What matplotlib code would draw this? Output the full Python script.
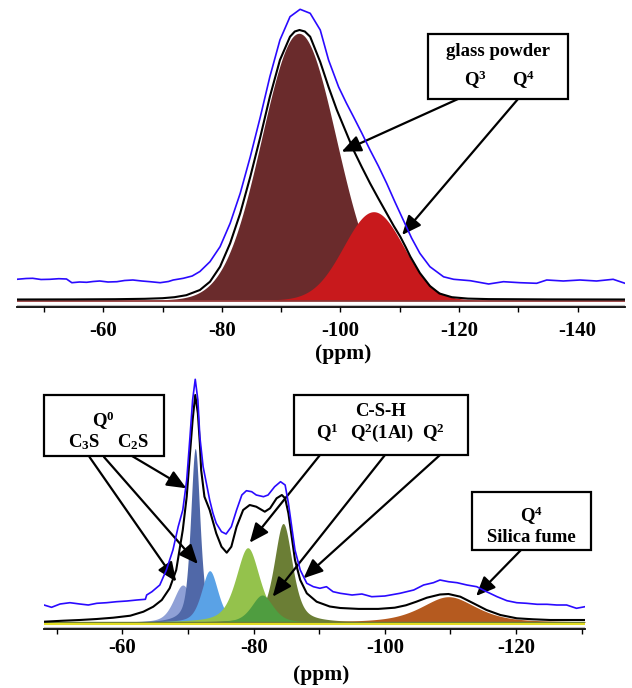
import matplotlib
matplotlib.use("Agg")
import matplotlib.pyplot as plt
import numpy as np
from matplotlib.patches import Rectangle

plt.rcParams["font.family"] = "Liberation Serif"
plt.rcParams["font.weight"] = "bold"
plt.rcParams["mathtext.fontset"] = "custom"
plt.rcParams["mathtext.rm"] = "Liberation Serif:bold"
plt.rcParams["mathtext.bf"] = "Liberation Serif:bold"
plt.rcParams["mathtext.it"] = "Liberation Serif:bold"
plt.rcParams["axes.unicode_minus"] = False

# ── glass powder spectrum (top) ──
# fitted components Q3, Q4: centre (ppm), FWHM (ppm), height (a.u.), Lorentz fraction
top_centers = [-93.0, -105.6]
top_fwhm = [14.8, 11.9]
top_heights = [266.7, 88.3]
top_eta = [0.0, 0.0]

top_exp_ppm = [-45.4, -47.0, -48.1, -49.5, -51.0, -52.5, -53.8, -54.7, -56.0, -57.2,
               -58.3, -59.4, -60.8, -62.3, -63.6, -65.0, -66.5, -67.9, -69.6, -71.0,
               -71.8, -73.5, -75.0, -76.3, -78.0, -79.7, -81.4, -83.1, -84.8, -86.5,
               -88.1, -89.8, -91.5, -93.2, -94.9, -96.6, -98.0, -99.7, -101.0, -102.2,
               -103.6, -105.0, -106.4, -107.8, -109.2, -110.6, -112.0, -113.4, -115.1, -117.4,
               -119.1, -121.9, -125.0, -127.5, -130.3, -133.1, -134.8, -137.6, -140.4, -143.2,
               -146.0, -148.0]
top_exp_int = [20.7, 21.5, 21.7, 20.5, 20.7, 21.3, 21.0, 17.3, 18.0, 17.7,
               18.5, 19.0, 18.0, 18.3, 19.5, 20.0, 19.0, 18.3, 17.3, 18.5,
               20.0, 21.7, 24.0, 28.5, 38.3, 53.3, 76.7, 106.7, 143.3, 183.3,
               223.3, 260.0, 283.3, 290.7, 286.7, 270.0, 240.0, 213.0, 197.0, 183.3,
               167.0, 150.0, 134.0, 116.7, 98.0, 80.0, 62.0, 46.7, 33.3, 23.2,
               20.7, 19.3, 16.0, 18.3, 17.3, 16.7, 20.0, 19.0, 20.0, 19.0,
               20.7, 16.7]

# simulated total (black)
top_fit_ppm = [-45.4, -55.0, -62.0, -67.0, -70.0, -72.0, -74.0, -76.3, -78.0, -79.7,
               -81.4, -83.1, -84.8, -86.5, -88.1, -89.8, -91.5, -92.3, -93.1, -94.0,
               -94.9, -96.6, -98.0, -99.4, -100.8, -102.2, -103.6, -105.0, -106.4, -107.8,
               -109.0, -110.1, -111.0, -111.8, -113.4, -115.1, -116.7, -118.8, -121.5, -125.0,
               -135.0, -148.0]
top_fit_int = [0.5, 0.6, 0.8, 1.2, 1.8, 2.8, 4.8, 10.0, 18.3, 33.3,
               56.7, 86.7, 123.3, 163.3, 203.3, 240.0, 263.3, 268.5, 270.0, 268.5,
               263.3, 238.0, 213.0, 190.0, 170.0, 150.0, 133.0, 116.7, 101.5, 86.7,
               74.0, 63.3, 53.0, 43.3, 27.0, 14.0, 6.5, 2.8, 1.4, 0.9,
               0.6, 0.5]

top_ticks = [-50, -60, -70, -80, -90, -100, -110, -120, -130, -140]

# ── hydrated paste spectrum (bottom) ──
# order: C3S, C2S, C3S, Q1, Q2, Q2(1Al), Q4 silica fume
bot_centers = [-69.2, -71.1, -73.3, -79.1, -84.5, -81.3, -109.7]
bot_fwhm = [3.4, 1.7, 3.0, 4.3, 3.3, 3.9, 10.0]
bot_heights = [37.5, 174.0, 51.8, 74.8, 99.0, 27.5, 25.8]
bot_eta = [0.5, 0.55, 0.5, 0.55, 0.55, 0.5, 0.6]

bot_exp_ppm = [-48.05, -49.2, -50.5, -52.0, -53.5, -54.8, -56.1, -57.6, -59.1, -60.7,
               -62.2, -63.5, -63.7, -64.5, -65.7, -66.7, -67.7, -68.5, -69.2, -69.8,
               -70.3, -70.7, -71.1, -71.5, -71.8, -72.3, -72.8, -73.3, -73.8, -74.3,
               -75.1, -75.8, -76.6, -77.4, -78.2, -78.9, -79.7, -80.4, -81.5, -82.2,
               -83.2, -84.1, -84.8, -85.3, -85.8, -86.3, -87.1, -88.1, -89.1, -90.1,
               -91.1, -92.1, -93.2, -95.0, -96.5, -98.0, -100.0, -102.3, -104.4, -105.9,
               -107.4, -108.4, -109.7, -111.0, -112.5, -114.0, -115.5, -117.1, -118.6, -120.1,
               -121.6, -123.2, -124.7, -126.2, -127.7, -129.2, -130.5]
bot_exp_int = [17.5, 15.2, 18.5, 19.8, 18.5, 17.5, 19.2, 19.8, 20.8, 21.5,
               22.5, 23.2, 27.5, 30.8, 37.5, 52.5, 72.5, 95.8, 112.5, 142.5,
               185.8, 222.5, 243.2, 222.5, 185.8, 155.8, 139.2, 122.5, 109.2, 99.2,
               90.8, 88.5, 95.8, 112.5, 127.5, 131.8, 130.8, 127.5, 125.8, 127.5,
               135.8, 140.8, 137.5, 119.2, 95.8, 72.5, 52.5, 39.2, 35.8, 34.2,
               35.8, 30.8, 29.2, 27.5, 28.5, 25.8, 26.5, 29.2, 32.5, 37.5,
               39.8, 42.5, 40.8, 39.8, 37.5, 35.8, 30.8, 25.8, 21.8, 19.8,
               19.2, 18.2, 18.2, 17.5, 17.5, 14.2, 15.8]

bot_fit_ppm = [-48.05, -51.0, -53.5, -56.1, -58.6, -61.2, -63.2, -64.7, -66.0, -67.2,
               -68.2, -69.2, -69.8, -70.3, -70.7, -71.1, -71.5, -71.8, -72.0, -72.5,
               -73.3, -74.3, -75.1, -75.9, -76.6, -77.4, -78.4, -79.4, -80.4, -81.7,
               -82.5, -83.5, -84.3, -84.8, -85.3, -85.8, -86.3, -87.1, -88.1, -89.6,
               -91.6, -93.2, -96.0, -99.0, -101.5, -103.2, -104.8, -106.4, -108.4, -109.7,
               -111.5, -113.5, -115.5, -117.6, -120.1, -122.6, -125.2, -127.7, -130.5]
bot_fit_int = [0.8, 1.8, 2.5, 3.5, 4.8, 6.8, 10.8, 15.8, 22.5, 34.2,
               52.5, 92.5, 125.8, 169.2, 202.5, 227.5, 209.2, 179.2, 152.5, 125.8,
               112.5, 89.2, 75.8, 69.8, 75.8, 95.8, 112.5, 117.5, 115.8, 110.8,
               114.2, 124.2, 127.5, 124.2, 109.2, 85.8, 62.5, 42.5, 29.2, 20.8,
               16.0, 14.5, 13.6, 13.6, 14.8, 17.2, 20.8, 24.8, 28.0, 28.5,
               25.8, 19.2, 12.5, 7.5, 4.2, 3.2, 2.5, 2.5, 2.5]

bot_ticks = [-50, -60, -70, -80, -90, -100, -110, -120, -130]

W, H = 632, 688
LABEL_FS = 13.5


def pseudo_voigt(x, c, fwhm, amp, eta):
    u = (x - c) / (fwhm / 2.0)
    return amp * (eta / (1 + u ** 2) + (1 - eta) * np.exp(-np.log(2) * u ** 2))


def fig_box(x0, y0, x1, y1):
    """pixel box (from top-left) -> figure fraction rect"""
    return [x0 / W, 1 - y1 / H, (x1 - x0) / W, (y1 - y0) / H]


def fpt(x, y):
    return (x / W, 1 - y / H)


def style_axis(ax, ticks, pad):
    for s in ("top", "left", "right"):
        ax.spines[s].set_visible(False)
    ax.spines["bottom"].set_linewidth(1.3)
    ax.set_yticks([])
    ax.set_xticks(ticks)
    ax.set_xticklabels([str(t) if t % 20 == 0 else "" for t in ticks])
    ax.tick_params(axis="x", direction="out", length=3.5, width=1.0,
                   labelsize=15, pad=pad)


def text_box(x0, y0, x1, y1):
    fig.add_artist(Rectangle(fpt(x0, y1), (x1 - x0) / W, (y1 - y0) / H,
                             transform=fig.transFigure, facecolor="white",
                             edgecolor="black", linewidth=1.6))


def label(x, y, s):
    fig.text(*fpt(x, y), s, fontsize=LABEL_FS, ha="center", va="center")


def arrow(ax, tip, start):
    ax.annotate("", xy=tip, xycoords="data", xytext=fpt(*start),
                textcoords="figure fraction", annotation_clip=False,
                arrowprops=dict(arrowstyle="-|>,head_length=0.65,head_width=0.28",
                                color="black", lw=1.6, mutation_scale=18,
                                shrinkA=0, shrinkB=0))


fig = plt.figure(figsize=(W / 100, H / 100), dpi=100)

# ── top panel ──
ax1 = fig.add_axes(fig_box(16.7, 0, 625, 307))
x1 = np.linspace(-45.4, -148.0, 3000)
top_cols = ["#6a2b2c", "#c8191c"]
for c, f, a, e, col in zip(top_centers, top_fwhm, top_heights, top_eta, top_cols):
    ax1.fill_between(x1, 0, pseudo_voigt(x1, c, f, a, e), color=col,
                     linewidth=0, zorder=2)
ax1.axhline(-1.0, color="#8b2a2a", lw=1.2, zorder=3)
ax1.axhline(-4.5, color="#c0c0c0", lw=0.8, zorder=3)
ax1.plot(top_fit_ppm, top_fit_int, color="black", lw=1.5, zorder=4)
ax1.plot(top_exp_ppm, top_exp_int, color="#2a0aff", lw=1.2, zorder=5)
ax1.set_xlim(-45.4, -148.0)
ax1.set_ylim(-7.0, 300.0)
style_axis(ax1, top_ticks, 6.5)
fig.text(*fpt(343, 354), "(ppm)", fontsize=15.5, ha="center", va="center")

text_box(428, 34, 568, 99)
label(497.5, 51, "glass powder")
label(475, 80, r"Q$^{3}$")
label(523, 80, r"Q$^{4}$")
arrow(ax1, (-100.2, 148.3), (458, 99))
arrow(ax1, (-110.4, 65.0), (518, 99))

# ── bottom panel ──
ax2 = fig.add_axes(fig_box(44, 372, 585, 628.5))
x2 = np.linspace(-48.05, -130.5, 4000)
bot_cols = ["#8fa0d6", "#5068a8", "#5aa2e6", "#94c24c", "#6b7e35", "#4f9d40", "#b55a1f"]
for c, f, a, e, col in zip(bot_centers, bot_fwhm, bot_heights, bot_eta, bot_cols):
    ax2.fill_between(x2, 0, pseudo_voigt(x2, c, f, a, e), color=col,
                     linewidth=0, zorder=2)
ax2.axhline(0.3, color="#6b7e35", lw=1.0, zorder=3)
ax2.axhline(-1.6, color="#e2dc22", lw=1.5, zorder=3)
ax2.axhline(-4.6, color="#c0c0c0", lw=0.8, zorder=3)
ax2.plot(bot_fit_ppm, bot_fit_int, color="black", lw=1.5, zorder=4)
ax2.plot(bot_exp_ppm, bot_exp_int, color="#2a0aff", lw=1.2, zorder=5)
ax2.set_xlim(-48.05, -130.5)
ax2.set_ylim(-6.0, 250.5)
style_axis(ax2, bot_ticks, 3.5)
fig.text(*fpt(321.5, 675), "(ppm)", fontsize=15.5, ha="center", va="center")

text_box(44, 395, 164, 456)
label(103, 421, r"Q$^{0}$")
label(84, 442, r"C$_{3}$S")
label(133, 442, r"C$_{2}$S")
arrow(ax2, (-68.2, 40.8), (89.5, 457))
arrow(ax2, (-71.5, 58.5), (104, 457))
arrow(ax2, (-69.75, 134.2), (132, 456))

text_box(294, 395, 468, 455)
label(381, 412, "C-S-H")
label(327, 433, r"Q$^{1}$")
label(382, 433, r"Q$^{2}$(1Al)")
label(433, 433, r"Q$^{2}$")
arrow(ax2, (-79.4, 79.8), (320, 455))
arrow(ax2, (-82.9, 25.8), (385, 455))
arrow(ax2, (-87.6, 44.2), (440, 455))

text_box(472, 492, 591, 550)
label(531, 516, r"Q$^{4}$")
label(531, 538, "Silica fume")
arrow(ax2, (-113.9, 26.5), (521, 550))

fig.savefig("out.png", dpi=100)
